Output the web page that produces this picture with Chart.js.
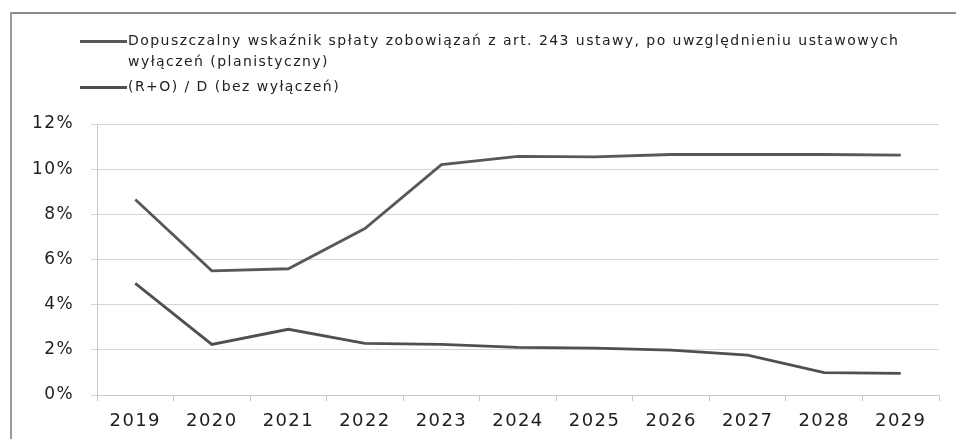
<!DOCTYPE html>
<html>
<head>
<meta charset="utf-8">
<script src="https://cdn.jsdelivr.net/npm/chart.js@4/dist/chart.umd.min.js"></script>
<style>
  html, body { margin:0; padding:0; background:#fff; overflow:hidden; }
  #wrap { position:relative; width:956px; height:439px; overflow:hidden; background:#fff; }
  #topline { position:absolute; left:10px; top:12px; width:946px; height:2px; background:#8a8a8a; }
  #leftline { position:absolute; left:10px; top:12px; width:2px; height:427px; background:#9a9a9a; }
  canvas { position:absolute; left:0; top:0; }
  #legend { position:absolute; left:80px; top:30px; width:870px;
            font-family:"DejaVu Sans", sans-serif; font-size:14px; color:#222;
            letter-spacing:1.45px; }
  .item { position:relative; padding-left:48px; line-height:21px; margin-bottom:4px; white-space:nowrap; }
  .sw { position:absolute; left:0; top:10px; width:47px; height:2.5px; }
</style>
</head>
<body>
<div id="wrap">
  <canvas id="c" width="956" height="439"></canvas>
  <div id="topline"></div>
  <div id="leftline"></div>
  <div id="legend"></div>
</div>
<script>
const categories = ['2019','2020','2021','2022','2023','2024','2025','2026','2027','2028','2029'];
const seriesNames = [
  'Dopuszczalny wskaźnik spłaty zobowiązań z art. 243 ustawy, po uwzględnieniu ustawowych wyłączeń (planistyczny)',
  '(R+O) / D (bez wyłączeń)'
];
const seriesLegendLines = [
  ['Dopuszczalny wskaźnik spłaty zobowiązań z art. 243 ustawy, po uwzględnieniu ustawowych', 'wyłączeń (planistyczny)'],
  ['(R+O) / D (bez wyłączeń)']
];
const limitValues = [8.66, 5.50, 5.59, 7.37, 10.20, 10.57, 10.54, 10.65, 10.65, 10.65, 10.62];
const ratioValues = [4.94, 2.24, 2.91, 2.29, 2.24, 2.11, 2.08, 1.99, 1.77, 0.99, 0.96];
const yTicks = [0, 2, 4, 6, 8, 10, 12];

const colors = ['#585858', '#505050'];

// HTML legend built from series names
const leg = document.getElementById('legend');
seriesLegendLines.forEach((lines, i) => {
  const d = document.createElement('div');
  d.className = 'item';
  const s = document.createElement('span');
  s.className = 'sw';
  s.style.background = colors[i];
  d.appendChild(s);
  lines.forEach((t, k) => {
    if (k > 0) d.appendChild(document.createElement('br'));
    d.appendChild(document.createTextNode(t));
  });
  leg.appendChild(d);
});

const spacing = {
  id: 'spacing',
  beforeLayout(chart) { chart.ctx.letterSpacing = '1.4px'; },
  beforeDraw(chart) { chart.ctx.letterSpacing = '1.4px'; }
};

new Chart(document.getElementById('c'), {
  type: 'line',
  data: {
    labels: categories,
    datasets: [
      { label: seriesNames[0], data: limitValues, borderColor: colors[0], borderWidth: 2.8,
        pointRadius: 0, tension: 0, fill: false },
      { label: seriesNames[1], data: ratioValues, borderColor: colors[1], borderWidth: 2.8,
        pointRadius: 0, tension: 0, fill: false }
    ]
  },
  options: {
    responsive: false,
    animation: false,
    devicePixelRatio: 1,
    layout: { padding: { top: 124, right: 17, left: 0, bottom: 0 } },
    plugins: { legend: { display: false }, tooltip: { enabled: false } },
    scales: {
      x: {
        offset: true,
        grid: { offset: true, drawOnChartArea: false, drawTicks: true, tickLength: 6, color: '#c8c8c8' },
        border: { display: true, color: '#c8c8c8', width: 1 },
        ticks: { color: '#1e1e1e', font: { family: 'DejaVu Sans', size: 18 }, padding: 10, maxRotation: 0 },
        afterFit(scale) { scale.height = 44; }
      },
      y: {
        min: 0, max: 12,
        afterBuildTicks(scale) { scale.ticks = yTicks.map(v => ({ value: v })); },
        grid: { color: '#d6d6d6', lineWidth: 1, drawTicks: true, tickLength: 6 },
        border: { display: true, color: '#c8c8c8', width: 1 },
        ticks: { color: '#1e1e1e', font: { family: 'DejaVu Sans', size: 17 }, padding: 17,
                 callback: v => v + '%' },
        afterFit(scale) { scale.width = 97; }
      }
    }
  },
  plugins: [spacing]
});
</script>
</body>
</html>
